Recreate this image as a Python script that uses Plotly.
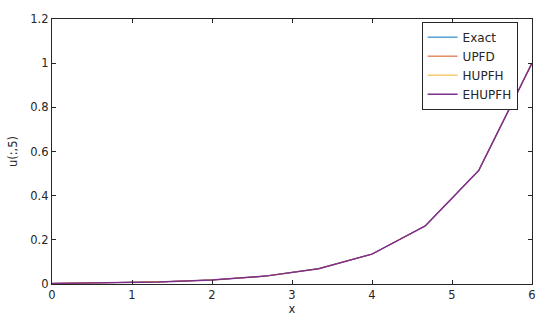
import plotly.graph_objects as go

x = [0.0, 0.6667, 1.3333, 2.0, 2.6667, 3.3333, 4.0, 4.6667, 5.3333, 6.0]
exact = [0.0025, 0.0048, 0.0094, 0.0183, 0.0357, 0.0695, 0.1353, 0.2636, 0.5134, 1.0]
upfd = [0.0025, 0.0048, 0.0094, 0.0183, 0.0357, 0.0695, 0.1353, 0.2636, 0.5134, 1.0]
hupfh = [0.0025, 0.0048, 0.0094, 0.0183, 0.0357, 0.0695, 0.1353, 0.2636, 0.5134, 1.0]
ehupfh = [0.0025, 0.0048, 0.0094, 0.0183, 0.0357, 0.0695, 0.1353, 0.2636, 0.5134, 1.0]

names = ['Exact', 'UPFD', 'HUPFH', 'EHUPFH']
colors = ['#0072BD', '#D95319', '#EDB120', '#7E2F8E']
widths = [1.0, 1.0, 1.0, 1.5]
series = [exact, upfd, hupfh, ehupfh]

fig = go.Figure()
for name, col, w, y in zip(names, colors, widths, series):
    fig.add_trace(go.Scatter(x=x, y=y, mode='lines', name=name,
                             line=dict(color=col, width=w)))

axis_style = dict(showline=True, linecolor='#262626', linewidth=1.2, mirror='ticks',
                  ticks='inside', ticklen=4, tickcolor='#262626', showgrid=False,
                  zeroline=False, tickfont=dict(size=11.5, color='#262626'))

fig.update_xaxes(range=[0, 6], dtick=1, title=dict(text='x', standoff=1,
                 font=dict(size=11.5, color='#262626')), **axis_style)
fig.update_yaxes(range=[0, 1.2], dtick=0.2, title=dict(text='u(:,5)', standoff=10,
                 font=dict(size=11.5, color='#262626')), **axis_style)

fig.update_layout(
    width=550, height=329,
    margin=dict(l=50, r=18, t=13, b=45),
    paper_bgcolor='white', plot_bgcolor='white',
    font=dict(family='DejaVu Sans, Arial, sans-serif', color='#262626'),
    legend=dict(x=0.97, y=0.99, xanchor='right', yanchor='top',
                bordercolor='#262626', borderwidth=1, bgcolor='white',
                font=dict(size=12), tracegroupgap=0, itemwidth=30),
)

# drop the default 8px page margin so the figure sits at the window corner
fig.write_html("out.html", config={'displayModeBar': False},
               post_script="document.body.style.margin='0';")
